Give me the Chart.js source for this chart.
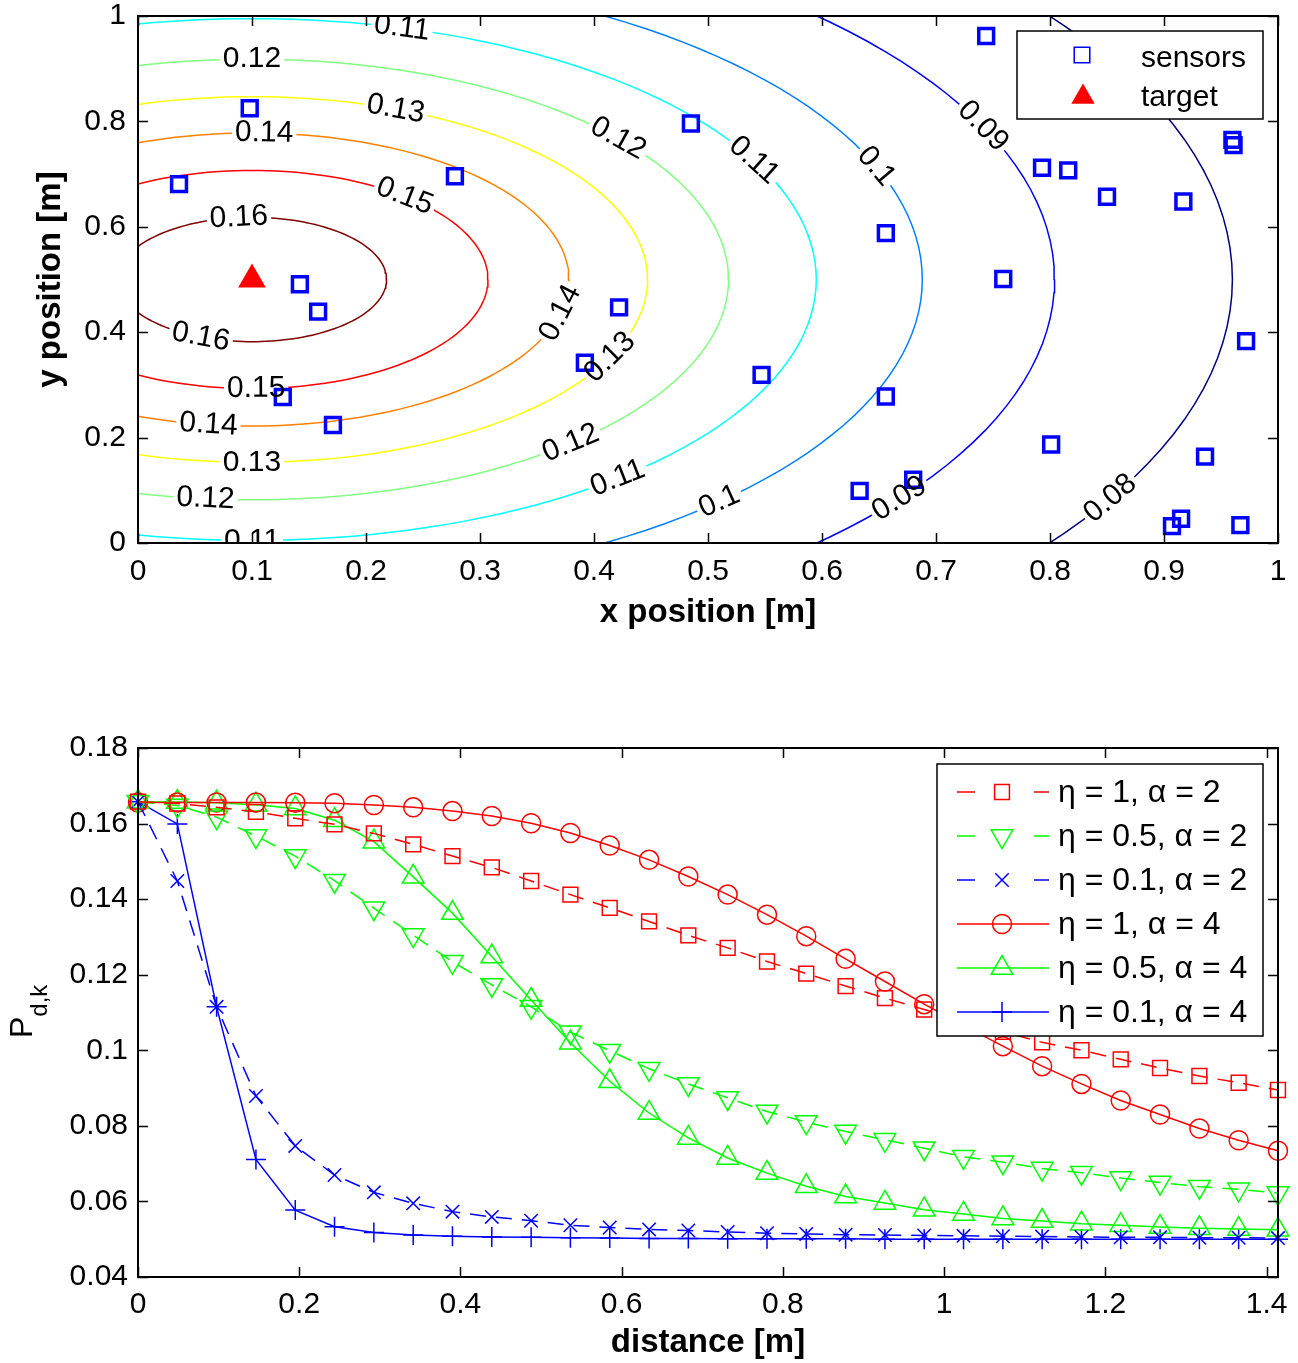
<!DOCTYPE html>
<html>
<head>
<meta charset="utf-8">
<script src="https://cdn.jsdelivr.net/npm/chart.js@4.4.0/dist/chart.umd.min.js"></script>
<style>
html,body{margin:0;padding:0;background:#fff;}
#top{position:absolute;left:0;top:0;}
#bottom{position:absolute;left:0;top:660px;}
</style>
</head>
<body>
<canvas id="top" width="1298" height="660"></canvas>
<canvas id="bottom" width="1298" height="703"></canvas>
<script>
// ---- top panel data ----
const sensorX = [0.036, 0.098, 0.142, 0.158, 0.127, 0.171, 0.278, 0.422, 0.392, 0.485, 0.547, 0.656, 0.656, 0.633, 0.680,
                 0.744, 0.759, 0.793, 0.816, 0.850, 0.917, 0.801, 0.936, 0.972, 0.960, 0.961, 0.907, 0.915, 0.967];
const sensorY = [0.681, 0.825, 0.491, 0.439, 0.277, 0.224, 0.696, 0.447, 0.342, 0.796, 0.319, 0.588, 0.278, 0.099, 0.120,
                 0.962, 0.501, 0.712, 0.707, 0.657, 0.648, 0.187, 0.164, 0.383, 0.765, 0.755, 0.032, 0.046, 0.034];
const targetX = [0.1];
const targetY = [0.5];

// contour levels and the radius of each (they are circles round the target)
const contourLevels = [0.16, 0.15, 0.14, 0.13, 0.12, 0.11, 0.10, 0.09, 0.08];
const contourRadii  = [0.118, 0.207, 0.278, 0.347, 0.418, 0.495, 0.588, 0.704, 0.860];
const contourColors = ['#800000', '#ff0000', '#ff8000', '#ffff00', '#80ff80', '#00ffff', '#0080ff', '#0000ff', '#000080'];

// inline contour labels: level + angle (deg) on its circle
const labelLevels = [0.11, 0.12, 0.13, 0.12, 0.14, 0.15, 0.16, 0.11, 0.1, 0.09, 0.08,
                     0.16, 0.15, 0.14, 0.13, 0.12, 0.11, 0.14, 0.13, 0.12, 0.11, 0.1, 0.09, 0.08];
const labelAngles = [74.6, 90, 68.7, 39.8, 87.8, 49.7, 95.6, 27.2, 21.4, 24.4, 24,
                     247.6, 271, 262.1, 270, 264.4, 270, 346.7, 334.8, 312, 310.4, 314.2, 323.8, 331.1];

// ---- bottom panel data ----
const distance = [0, 0.0488, 0.0975, 0.1463, 0.1951, 0.2438, 0.2926, 0.3414, 0.3901, 0.4389,
                  0.4877, 0.5364, 0.5852, 0.6340, 0.6827, 0.7315, 0.7803, 0.8290, 0.8778, 0.9266,
                  0.9753, 1.0241, 1.0729, 1.1216, 1.1704, 1.2191, 1.2679, 1.3167, 1.3654, 1.4142];
const pdEta1Alpha2 = [0.1658, 0.1653, 0.1643, 0.1631, 0.1614, 0.1598, 0.1574, 0.1545, 0.1514, 0.1484,
                      0.1448, 0.1412, 0.1377, 0.1341, 0.1304, 0.1271, 0.1235, 0.1203, 0.1170, 0.1138,
                      0.1108, 0.1078, 0.1049, 0.1021, 0.1000, 0.0976, 0.0953, 0.0932, 0.0914, 0.0895];
const pdEta05Alpha2 = [0.1658, 0.1648, 0.1617, 0.1567, 0.1514, 0.1449, 0.1376, 0.1305, 0.1234, 0.1173,
                       0.1115, 0.1048, 0.0999, 0.0951, 0.0911, 0.0874, 0.0838, 0.0810, 0.0785, 0.0763,
                       0.0741, 0.0718, 0.0704, 0.0687, 0.0676, 0.0662, 0.0650, 0.0639, 0.0632, 0.0622];
const pdEta01Alpha2 = [0.1658, 0.1448, 0.1115, 0.0879, 0.0747, 0.0670, 0.0624, 0.0595, 0.0573, 0.0559,
                       0.0549, 0.0537, 0.0531, 0.0526, 0.0523, 0.0519, 0.0516, 0.0514, 0.0512, 0.0511,
                       0.0510, 0.0509, 0.0508, 0.0507, 0.0506, 0.0505, 0.0505, 0.0504, 0.0504, 0.0503];
const pdEta1Alpha4 = [0.1656, 0.1656, 0.1656, 0.1656, 0.1655, 0.1654, 0.1649, 0.1643, 0.1633, 0.1620,
                      0.1601, 0.1575, 0.1542, 0.1504, 0.1460, 0.1412, 0.1359, 0.1302, 0.1242, 0.1182,
                      0.1122, 0.1066, 0.1011, 0.0958, 0.0911, 0.0867, 0.0830, 0.0793, 0.0762, 0.0734];
const pdEta05Alpha4 = [0.1658, 0.1657, 0.1655, 0.1650, 0.1640, 0.1609, 0.1552, 0.1459, 0.1363, 0.1248,
                       0.1133, 0.1020, 0.0918, 0.0834, 0.0768, 0.0715, 0.0675, 0.0640, 0.0613, 0.0596,
                       0.0578, 0.0567, 0.0555, 0.0548, 0.0541, 0.0537, 0.0532, 0.0529, 0.0527, 0.0525];
const pdEta01Alpha4 = [0.1658, 0.1599, 0.1115, 0.0711, 0.0577, 0.0533, 0.0518, 0.0511, 0.0508, 0.0506,
                       0.0505, 0.0504, 0.0503, 0.0502, 0.0502, 0.0501, 0.0501, 0.0501, 0.0501, 0.0500,
                       0.0500, 0.0500, 0.0500, 0.0500, 0.0500, 0.0500, 0.0500, 0.0500, 0.0500, 0.0500];

const FONT = "'Liberation Sans', Arial, Helvetica, sans-serif";
Chart.defaults.font.family = FONT;
Chart.defaults.color = '#000';

const fmt = v => String(+v.toFixed(2));

function drawMarker(ctx, style, x, y, r, rot, filled) {
  ctx.beginPath();
  if (style === 'rect') {
    const s = r * Math.SQRT1_2;
    ctx.rect(x - s, y - s, 2 * s, 2 * s);
  } else if (style === 'circle') {
    ctx.arc(x, y, r, 0, 2 * Math.PI);
  } else if (style === 'triangle') {
    let a = (rot || 0) * Math.PI / 180;
    ctx.moveTo(x + Math.sin(a) * r, y - Math.cos(a) * r);
    for (let k = 0; k < 2; k++) {
      a += 2 * Math.PI / 3;
      ctx.lineTo(x + Math.sin(a) * r, y - Math.cos(a) * r);
    }
    ctx.closePath();
  } else if (style === 'cross') {
    ctx.moveTo(x, y - r); ctx.lineTo(x, y + r);
    ctx.moveTo(x - r, y); ctx.lineTo(x + r, y);
  } else if (style === 'crossRot') {
    const d = r * Math.SQRT1_2;
    ctx.moveTo(x - d, y - d); ctx.lineTo(x + d, y + d);
    ctx.moveTo(x - d, y + d); ctx.lineTo(x + d, y - d);
  }
  if (filled) ctx.fill(); else ctx.stroke();
}

// frame with inward ticks on all four sides
function drawFrame(chart) {
  const ctx = chart.ctx, a = chart.chartArea;
  const xs = chart.scales.x, ys = chart.scales.y;
  ctx.save();
  ctx.strokeStyle = '#000';
  ctx.lineWidth = 1.5;
  ctx.beginPath();
  xs.ticks.forEach(t => {
    const p = Math.round(xs.getPixelForValue(t.value)) + 0.5;
    ctx.moveTo(p, a.bottom); ctx.lineTo(p, a.bottom - 10);
    ctx.moveTo(p, a.top); ctx.lineTo(p, a.top + 10);
  });
  ys.ticks.forEach(t => {
    const p = Math.round(ys.getPixelForValue(t.value)) + 0.5;
    ctx.moveTo(a.left, p); ctx.lineTo(a.left + 10, p);
    ctx.moveTo(a.right, p); ctx.lineTo(a.right - 10, p);
  });
  ctx.stroke();
  ctx.lineWidth = 2;
  ctx.strokeRect(a.left, a.top, a.right - a.left, a.bottom - a.top);
  ctx.restore();
}

function fixY(w) {
  return s => { s.width = w; s.paddingTop = 0; s.paddingBottom = 0; };
}
function fixX(h) {
  return s => { s.height = h; s.paddingLeft = 0; s.paddingRight = 0; };
}

// ---------------- top panel ----------------
function circlePoints(r) {
  const pts = [];
  for (let d = 0; d <= 360; d += 2) {
    const t = d * Math.PI / 180;
    pts.push({x: targetX[0] + r * Math.cos(t), y: targetY[0] + r * Math.sin(t)});
  }
  return pts;
}

function labelPlacements(chart) {
  const xs = chart.scales.x, ys = chart.scales.y, ctx = chart.ctx;
  return labelLevels.map((lev, i) => {
    const r = contourRadii[contourLevels.indexOf(lev)];
    const t = labelAngles[i] * Math.PI / 180;
    const px = a => xs.getPixelForValue(targetX[0] + r * Math.cos(a));
    const py = a => ys.getPixelForValue(targetY[0] + r * Math.sin(a));
    let rot = Math.atan2(py(t + 0.01) - py(t - 0.01), px(t + 0.01) - px(t - 0.01));
    if (rot > Math.PI / 2) rot -= Math.PI;
    if (rot < -Math.PI / 2) rot += Math.PI;
    const text = String(lev);
    return {x: px(t), y: py(t), rot: rot, text: text, w: ctx.measureText(text).width};
  });
}

const clabelPlugin = {
  id: 'clabels',
  afterDatasetDraw(chart, args) {
    // last contour drawn -> cut gaps in the lines before markers go on
    if (args.index !== 2) return;
    const ctx = chart.ctx, a = chart.chartArea;
    ctx.save();
    ctx.beginPath();
    ctx.rect(a.left, a.top, a.right - a.left, a.bottom - a.top);
    ctx.clip();
    ctx.font = '30px ' + FONT;
    labelPlacements(chart).forEach(p => {
      ctx.save();
      ctx.translate(p.x, p.y);
      ctx.rotate(p.rot);
      ctx.fillStyle = '#fff';
      ctx.fillRect(-p.w / 2 - 3, -11, p.w + 6, 22);
      ctx.restore();
    });
    ctx.restore();
  },
  afterDatasetsDraw(chart) {
    const ctx = chart.ctx, a = chart.chartArea;
    ctx.save();
    ctx.beginPath();
    ctx.rect(a.left, a.top, a.right - a.left, a.bottom - a.top);
    ctx.clip();
    ctx.font = '30px ' + FONT;
    ctx.fillStyle = '#000';
    ctx.textAlign = 'center';
    ctx.textBaseline = 'middle';
    labelPlacements(chart).forEach(p => {
      ctx.save();
      ctx.translate(p.x, p.y);
      ctx.rotate(p.rot);
      ctx.fillText(p.text, 0, 0);
      ctx.restore();
    });
    ctx.restore();
  }
};

const topDecor = {
  id: 'topDecor',
  afterDraw(chart) {
    drawFrame(chart);
    const ctx = chart.ctx, a = chart.chartArea;
    const w = 246, h = 88;
    const L = a.right - 15 - w, T = a.top + 15;
    ctx.save();
    ctx.fillStyle = '#fff';
    ctx.fillRect(L, T, w, h);
    ctx.strokeStyle = '#000';
    ctx.lineWidth = 1.5;
    ctx.strokeRect(L, T, w, h);
    ctx.strokeStyle = '#0000ff';
    ctx.lineWidth = 1.5;
    drawMarker(ctx, 'rect', L + 65, T + 24, 11, 0, false);
    ctx.fillStyle = '#ff0000';
    drawMarker(ctx, 'triangle', L + 66, T + 66, 13.5, 0, true);
    ctx.fillStyle = '#000';
    ctx.font = '30px ' + FONT;
    ctx.textAlign = 'left';
    ctx.textBaseline = 'middle';
    ctx.fillText('sensors', L + 124, T + 28);
    ctx.fillText('target', L + 124, T + 67);
    ctx.restore();
  }
};

new Chart(document.getElementById('top'), {
  type: 'scatter',
  data: {
    datasets: [
      {
        label: 'sensors',
        data: sensorX.map((x, i) => ({x: x, y: sensorY[i]})),
        pointStyle: 'rect', pointRadius: 10.5, pointBorderWidth: 3.5,
        pointBorderColor: '#0000ff', pointBackgroundColor: 'rgba(0,0,0,0)', clip: false
      },
      {
        label: 'target',
        data: targetX.map((x, i) => ({x: x, y: targetY[i]})),
        pointStyle: 'triangle', pointRadius: 16, pointBorderWidth: 0,
        pointBorderColor: '#ff0000', pointBackgroundColor: '#ff0000', clip: false
      },
      ...contourLevels.map((lev, k) => ({
        label: 'P = ' + lev,
        data: circlePoints(contourRadii[k]),
        showLine: true, borderColor: contourColors[k], borderWidth: 1.5,
        pointRadius: 0, tension: 0, fill: false
      }))
    ]
  },
  options: {
    responsive: false, animation: false, devicePixelRatio: 1,
    layout: {padding: {top: 16, right: 20, left: 0, bottom: 0}},
    plugins: {legend: {display: false}, tooltip: {enabled: false}},
    scales: {
      x: {
        type: 'linear', min: 0, max: 1, afterFit: fixX(117),
        grid: {display: false, drawTicks: false}, border: {display: false},
        ticks: {stepSize: 0.1, padding: 11, font: {size: 30}, callback: fmt, maxRotation: 0, autoSkip: false},
        title: {display: true, text: 'x position [m]', font: {size: 33, weight: 'bold'}, padding: {top: 0, bottom: 27}}
      },
      y: {
        type: 'linear', min: 0, max: 1, afterFit: fixY(138),
        grid: {display: false, drawTicks: false}, border: {display: false},
        ticks: {stepSize: 0.2, padding: 12, font: {size: 30}, callback: fmt, autoSkip: false},
        title: {display: true, text: 'y position [m]', font: {size: 33, weight: 'bold'}, padding: {top: 31, bottom: 0}}
      }
    }
  },
  plugins: [clabelPlugin, topDecor]
});

// ---------------- bottom panel ----------------
const seriesDefs = [
  {label: 'η = 1, α = 2',   values: pdEta1Alpha2,  color: '#ff0000', dash: true,  style: 'rect',     radius: 10.5, rot: 0},
  {label: 'η = 0.5, α = 2', values: pdEta05Alpha2, color: '#00ff00', dash: true,  style: 'triangle', radius: 12.5, rot: 180},
  {label: 'η = 0.1, α = 2', values: pdEta01Alpha2, color: '#0000ff', dash: true,  style: 'crossRot', radius: 9.5,  rot: 0},
  {label: 'η = 1, α = 4',   values: pdEta1Alpha4,  color: '#ff0000', dash: false, style: 'circle',   radius: 9.5,  rot: 0},
  {label: 'η = 0.5, α = 4', values: pdEta05Alpha4, color: '#00ff00', dash: false, style: 'triangle', radius: 12.5, rot: 0},
  {label: 'η = 0.1, α = 4', values: pdEta01Alpha4, color: '#0000ff', dash: false, style: 'cross',    radius: 10,   rot: 0}
];

const bottomDecor = {
  id: 'bottomDecor',
  afterDraw(chart) {
    drawFrame(chart);
    const ctx = chart.ctx, a = chart.chartArea;
    // y axis title P_{d,k}
    ctx.save();
    ctx.fillStyle = '#000';
    ctx.translate(32, 378);
    ctx.rotate(-Math.PI / 2);
    ctx.textAlign = 'left';
    ctx.textBaseline = 'alphabetic';
    ctx.font = '32px ' + FONT;
    ctx.fillText('P', 0, 0);
    const pw = ctx.measureText('P').width;
    ctx.font = '24px ' + FONT;
    ctx.fillText('d,k', pw, 15);
    ctx.restore();

    // legend
    const w = 326, h = 272;
    const L = a.right - 15 - w, T = a.top + 16;
    ctx.save();
    ctx.fillStyle = '#fff';
    ctx.fillRect(L, T, w, h);
    ctx.strokeStyle = '#000';
    ctx.lineWidth = 1.5;
    ctx.strokeRect(L, T, w, h);
    ctx.font = '32px ' + FONT;
    ctx.textAlign = 'left';
    ctx.textBaseline = 'middle';
    seriesDefs.forEach((s, i) => {
      const y = T + 28 + i * 44;
      ctx.strokeStyle = s.color;
      ctx.lineWidth = 1.5;
      ctx.beginPath();
      if (s.dash) {
        ctx.moveTo(L + 20, y); ctx.lineTo(L + 38, y);
        ctx.moveTo(L + 97, y); ctx.lineTo(L + 112, y);
      } else {
        ctx.moveTo(L + 20, y); ctx.lineTo(L + 112, y);
      }
      ctx.stroke();
      drawMarker(ctx, s.style, L + 65, y, s.radius, s.rot, false);
      ctx.fillStyle = '#000';
      ctx.fillText(s.label, L + 121, y + 1);
    });
    ctx.restore();
  }
};

new Chart(document.getElementById('bottom'), {
  type: 'line',
  data: {
    datasets: seriesDefs.map(s => ({
      label: s.label,
      data: s.values.map((v, i) => ({x: distance[i], y: v})),
      borderColor: s.color, borderWidth: 1.5, borderDash: s.dash ? [16, 10] : [],
      pointStyle: s.style, pointRadius: s.radius, pointRotation: s.rot,
      pointBorderColor: s.color, pointBackgroundColor: 'rgba(0,0,0,0)', pointBorderWidth: 1.5,
      tension: 0, fill: false, clip: false
    }))
  },
  options: {
    responsive: false, animation: false, devicePixelRatio: 1,
    layout: {padding: {top: 88, right: 20, left: 0, bottom: 0}},
    plugins: {legend: {display: false}, tooltip: {enabled: false}},
    scales: {
      x: {
        type: 'linear', min: 0, max: 1.41421356, afterFit: fixX(86),
        grid: {display: false, drawTicks: false}, border: {display: false},
        ticks: {stepSize: 0.2, padding: 10, font: {size: 30}, callback: fmt, includeBounds: false, maxRotation: 0, autoSkip: false},
        title: {display: true, text: 'distance [m]', font: {size: 33, weight: 'bold'}, padding: {top: 0, bottom: 0}}
      },
      y: {
        type: 'linear', min: 0.04, max: 0.18, afterFit: fixY(138),
        grid: {display: false, drawTicks: false}, border: {display: false},
        ticks: {stepSize: 0.02, padding: 10, font: {size: 30}, callback: fmt, autoSkip: false}
      }
    }
  },
  plugins: [bottomDecor]
});
</script>
</body>
</html>
